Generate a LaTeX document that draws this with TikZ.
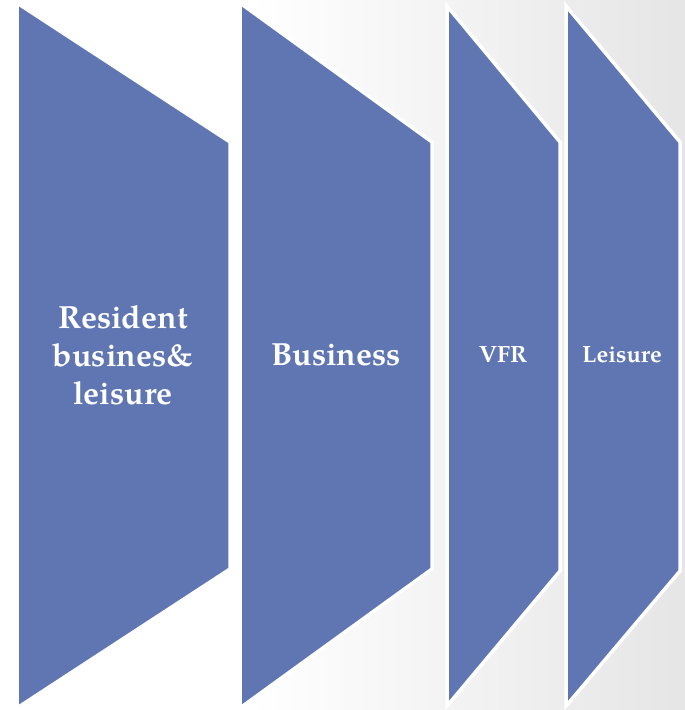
\documentclass[tikz,border=0pt]{standalone}
\usepackage{fontspec}
\setmainfont{TeX Gyre Pagella}
\definecolor{chevblue}{RGB}{95,118,178}
\tikzset{
  chev/.style={fill=chevblue, draw=white, line width=3.5pt, line join=miter},
  big/.style={text=white, font=\bfseries\fontsize{32}{38}\selectfont, align=center},
  small/.style={text=white, font=\bfseries\fontsize{23.5}{28}\selectfont, align=center}
}
\begin{document}
\begin{tikzpicture}[x=1pt,y=-1pt]
  % canvas with a grey wash towards the right
  \useasboundingbox (0,0) rectangle (685,710);
  \fill[white] (0,0) rectangle (685,710);
  \shade[left color=white, right color=black!10] (250,0) rectangle (685,710);

  % four pentagon bands
  \draw[chev] (17,3) -- (230,142) -- (230,569) -- (17,708) -- cycle;
  \draw[chev] (240,3) -- (432,142) -- (432,569) -- (240,708) -- cycle;
  \draw[chev] (447,6) -- (560,142) -- (560,571) -- (447,706) -- cycle;
  \draw[chev] (566,6) -- (680,142) -- (680,571) -- (566,706) -- cycle;

  % labels
  \node[big] (a) at (123,355) {Resident\\busines\&\\leisure};
  \node[big] (b) at (336,355) {Business};
  \node[small] (c) at (503,355) {VFR};
  \node[small] (d) at (622,355) {Leisure};
\end{tikzpicture}
\end{document}
